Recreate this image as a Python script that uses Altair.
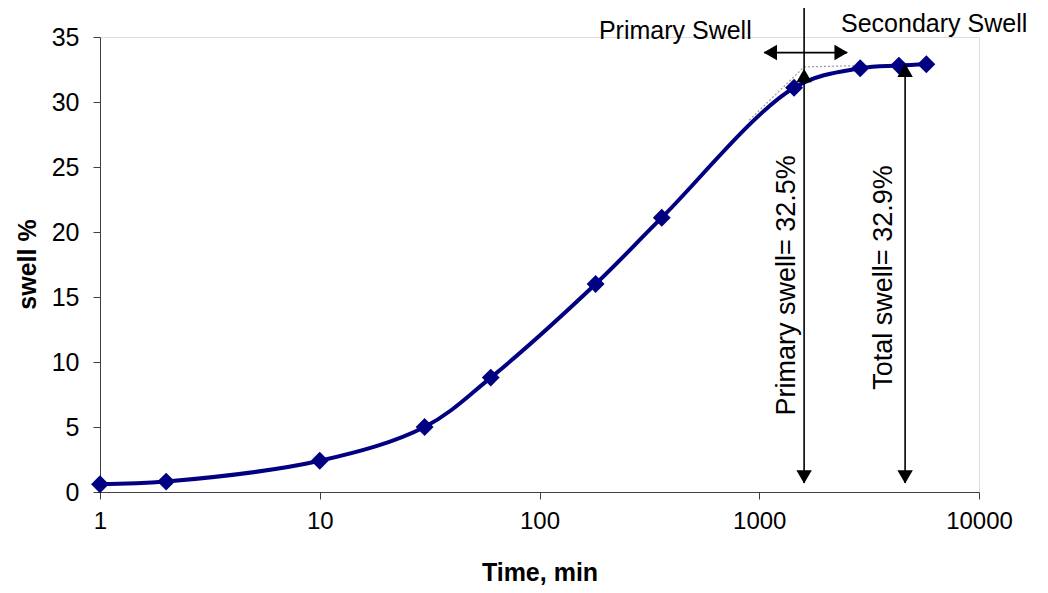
import altair as alt
import pandas as pd

# ---- data ----
time_min = [1, 2, 10, 30, 60, 180, 360, 1440, 2880, 4320, 5760]
swell_pct = [0.6, 0.8, 2.4, 5.0, 8.8, 16.0, 21.1, 31.1, 32.6, 32.8, 32.9]

x_ticks = [1, 10, 100, 1000, 10000]
y_ticks = [0, 5, 10, 15, 20, 25, 30, 35]

# vertical double arrows (primary / total swell)
varrow_x = [1600, 4610]
varrow_top = [32.5, 32.9]
varrow_bottom = [0.7, 0.7]

# divider line above primary arrow
divider_x = [1600]
divider_top = [37.7]
divider_bottom = [32.5]

# horizontal double arrow
harrow_y = [33.8]
harrow_left = [1054]
harrow_right = [2512]

# dotted tangent construction lines
tan_x = [900, 1600, 1600]
tan_x2 = [1600, 1600, 2880]
tan_y = [28.6, 32.7, 32.7]
tan_y2 = [32.7, 32.7, 32.8]

# annotations
top_labels = ["Primary Swell", "Secondary Swell"]
top_label_x = [415, 6250]
top_label_y = [35.5, 36.0]

rot_labels = ["Primary swell= 32.5%", "Total swell= 32.9%"]
rot_label_x = [1340, 3700]
rot_label_y = [15.9, 16.5]

NAVY = "#000080"
FONT = "Liberation Sans"

df = pd.DataFrame({"t": time_min, "s": swell_pct})

xscale = alt.Scale(type="log", domain=[1, 10000])
yscale = alt.Scale(domain=[0, 35])

xaxis = alt.Axis(values=x_ticks, format="d", grid=False, tickSize=7, labelPadding=10,
                 labelFlush=False, labelOverlap=False,
                 labelFontSize=24, labelFont=FONT, labelColor="black",
                 title="Time, min", titleFontSize=25, titleFont=FONT, titleFontWeight="bold",
                 titleColor="black", titleY=88, titleBaseline="alphabetic",
                 domainColor="#404040", tickColor="#404040")
yaxis = alt.Axis(values=y_ticks, grid=False, tickSize=7, labelPadding=14,
                 labelFontSize=25, labelFont=FONT, labelColor="black",
                 title="swell %", titleFontSize=25, titleFont=FONT, titleFontWeight="bold",
                 titleColor="black", titleX=-60, titleY=227, domainColor="#404040",
                 tickColor="#404040")

line = alt.Chart(df).mark_line(color=NAVY, strokeWidth=4, interpolate="catmull-rom").encode(
    x=alt.X("t:Q", scale=xscale, axis=xaxis),
    y=alt.Y("s:Q", scale=yscale, axis=yaxis),
)
pts = alt.Chart(df).mark_point(shape="diamond", filled=True, size=320, color=NAVY, opacity=1).encode(
    x=alt.X("t:Q", scale=xscale), y=alt.Y("s:Q", scale=yscale)
)

tan_df = pd.DataFrame({"x": tan_x, "x2": tan_x2, "y": tan_y, "y2": tan_y2})
tangents = alt.Chart(tan_df).mark_rule(color="#999999", strokeDash=[2, 2], strokeWidth=1.2).encode(
    x=alt.X("x:Q", scale=xscale), x2="x2:Q", y=alt.Y("y:Q", scale=yscale), y2="y2:Q"
)

va_df = pd.DataFrame({"x": varrow_x, "top": varrow_top, "bottom": varrow_bottom})
va_rule = alt.Chart(va_df).mark_rule(color="black", strokeWidth=1.6).encode(
    x=alt.X("x:Q", scale=xscale), y=alt.Y("top:Q", scale=yscale), y2="bottom:Q"
)
va_up = alt.Chart(va_df).mark_point(shape="triangle-up", filled=True, size=240, color="black",
                                    opacity=1, yOffset=6).encode(
    x=alt.X("x:Q", scale=xscale), y=alt.Y("top:Q", scale=yscale)
)
va_down = alt.Chart(va_df).mark_point(shape="triangle-down", filled=True, size=240, color="black",
                                      opacity=1, yOffset=-6).encode(
    x=alt.X("x:Q", scale=xscale), y=alt.Y("bottom:Q", scale=yscale)
)

div_df = pd.DataFrame({"x": divider_x, "top": divider_top, "bottom": divider_bottom})
divider = alt.Chart(div_df).mark_rule(color="black", strokeWidth=1.6).encode(
    x=alt.X("x:Q", scale=xscale), y=alt.Y("top:Q", scale=yscale), y2="bottom:Q"
)

ha_df = pd.DataFrame({"y": harrow_y, "l": harrow_left, "r": harrow_right})
ha_rule = alt.Chart(ha_df).mark_rule(color="black", strokeWidth=1.6).encode(
    x=alt.X("l:Q", scale=xscale), x2="r:Q", y=alt.Y("y:Q", scale=yscale)
)
ha_left = alt.Chart(ha_df).mark_point(shape="triangle-left", filled=True, size=240, color="black",
                                      opacity=1, xOffset=6).encode(
    x=alt.X("l:Q", scale=xscale), y=alt.Y("y:Q", scale=yscale)
)
ha_right = alt.Chart(ha_df).mark_point(shape="triangle-right", filled=True, size=240, color="black",
                                       opacity=1, xOffset=-6).encode(
    x=alt.X("r:Q", scale=xscale), y=alt.Y("y:Q", scale=yscale)
)

top_df = pd.DataFrame({"x": top_label_x, "y": top_label_y, "label": top_labels})
top_text = alt.Chart(top_df).mark_text(font=FONT, fontSize=25, color="black", align="center",
                                       baseline="middle").encode(
    x=alt.X("x:Q", scale=xscale), y=alt.Y("y:Q", scale=yscale), text="label:N"
)

rot_df = pd.DataFrame({"x": rot_label_x, "y": rot_label_y, "label": rot_labels})
rot_text = alt.Chart(rot_df).mark_text(font=FONT, fontSize=27, color="black", align="center",
                                       baseline="middle", angle=270).encode(
    x=alt.X("x:Q", scale=xscale), y=alt.Y("y:Q", scale=yscale), text="label:N"
)

chart = alt.layer(
    tangents, line, pts, va_rule, va_up, va_down, divider, ha_rule, ha_left, ha_right,
    top_text, rot_text
).properties(
    width=879, height=455,
    padding={"left": 92, "top": 29, "right": 61, "bottom": 93},
    autosize=alt.AutoSizeParams(type="none"),
).configure_view(stroke=None).configure(background="white")

chart.save("out.html", embed_options={"renderer": "svg", "actions": False})
